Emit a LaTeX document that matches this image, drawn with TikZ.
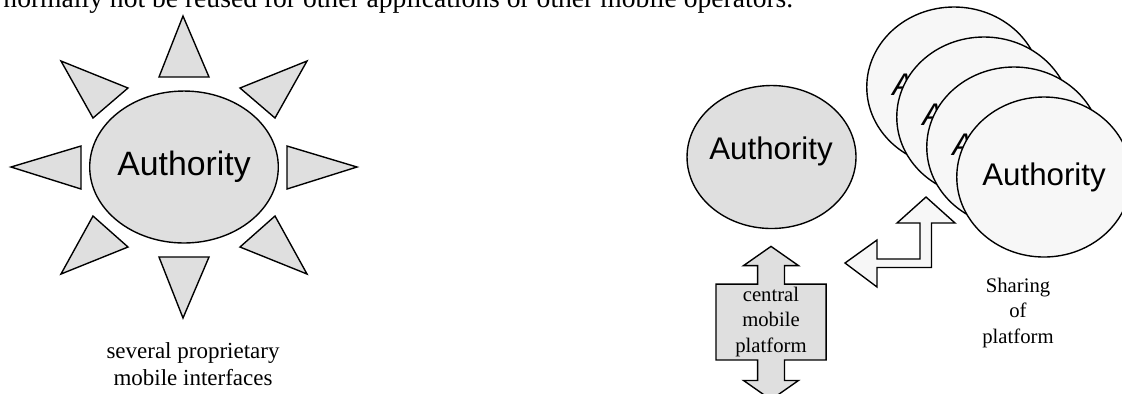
\documentclass[tikz,border=0pt]{standalone}
\usepackage{fontspec}
\setmainfont{Liberation Serif}
\newfontfamily\arialfont{Liberation Sans}
\usetikzlibrary{shapes.geometric,shapes.arrows}

\tikzset{
  outline/.style={draw=black, line width=0.6pt, line join=miter},
  darkfill/.style={outline, fill=gray!25},
  lightfill/.style={outline, fill=gray!6},
  authority/.style={ellipse, inner sep=0pt, font=\arialfont\fontsize{13.6}{16}\selectfont},
  caption/.style={align=center, font=\fontsize{9}{10.9}\selectfont},
}

\begin{document}
\begin{tikzpicture}[x=0.435pt, y=-0.435pt]
  \useasboundingbox (0,0) rectangle (1122,393);

  % running text above, cut off by the page
  \node[anchor=base west, inner sep=0pt, font=\fontsize{12}{14}\selectfont] (runtext) at (3,7)
    {normally not be reused for other applications or other mobile operators.};

  % left: one authority, many interfaces
  \foreach \ax/\ay/\bx/\by/\cx/\cy in {183/16/159/77/209/77, 183/318/159/257/209/257,
      11/167/81/146/81/189, 357/167/287/146/287/189,
      61/61/128/88/93/118, 307/61/240/88/275/118,
      61/274/128/247/93/216, 307/274/240/247/275/216}
    \draw[darkfill] (\ax,\ay) -- (\bx,\by) -- (\cx,\cy) -- cycle;
  \node[authority, darkfill, minimum width=75.7pt, minimum height=66.1pt,
        font=\arialfont\fontsize{14.7}{17}\selectfont] (sun) at (184,167) {Authority};
  \node[align=center, font=\fontsize{10}{12}\selectfont] (suncap) at (193,364)
    {several proprietary\\mobile interfaces};

  % right: central platform
  \node[authority, darkfill, minimum width=73.5pt, minimum height=62.2pt] (central) at (771.5,157) {};
  \node[font=\arialfont\fontsize{13.6}{16}\selectfont] (centraltext) at (771,151) {Authority};
  \node[arrow box, darkfill, caption, minimum width=47.9pt, minimum height=33pt, inner sep=0pt,
        arrow box shaft width=11.7pt, arrow box head extend=6.1pt, arrow box tip angle=110,
        arrow box arrows={north:16.1pt, south:17pt}] (platform) at (771,322)
    {central\\mobile\\platform};

  % shared platform
  \foreach \cx/\cy [count=\i] in {954/87, 984/117, 1014/147}
    \node[authority, lightfill, minimum width=68.7pt, minimum height=69.6pt,
          font=\arialfont\itshape\fontsize{13.6}{16}\selectfont] (stack\i) at (\cx,\cy) {Authority};
  \node[authority, lightfill, minimum width=68.7pt, minimum height=69.6pt] (front) at (1044,177) {Authority};
  \draw[lightfill] (926,197) -- (955,223) -- (931.5,223) -- (931.5,267.5) -- (877,267.5)
    -- (877,287) -- (845,263) -- (877,240) -- (877,259) -- (920,259) -- (920,223)
    -- (897,223) -- cycle;
  \node[caption] (sharing) at (1018,313) {Sharing\\of\\platform};
\end{tikzpicture}
\end{document}
